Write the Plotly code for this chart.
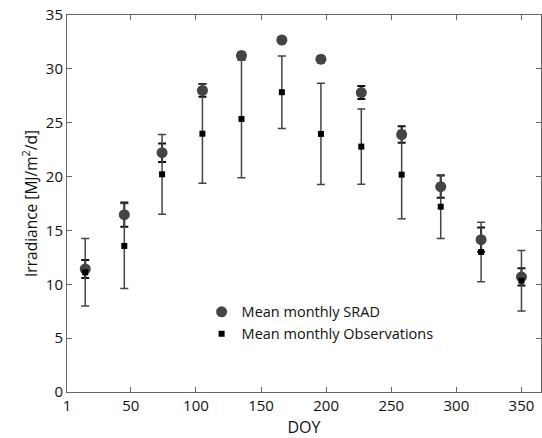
import plotly.graph_objects as go

doy = [15, 45, 74, 105, 135, 166, 196, 227, 258, 288, 319, 350]
srad = [11.42, 16.46, 22.22, 28.0, 31.23, 32.68, 30.9, 27.8, 23.9, 19.06, 14.14, 10.68]
srad_err = [0.83, 1.13, 0.86, 0.6, 0.3, 0.2, 0.3, 0.6, 0.77, 1.03, 1.13, 0.8]
obs = [11.11, 13.56, 20.21, 23.98, 25.35, 27.83, 23.96, 22.78, 20.18, 17.2, 13.0, 10.33]
obs_err = [3.13, 3.95, 3.7, 4.6, 5.45, 3.36, 4.7, 3.5, 4.1, 2.95, 2.77, 2.8]
xticks = [1, 50, 100, 150, 200, 250, 300, 350]
yticks = [0, 5, 10, 15, 20, 25, 30, 35]

font_family = "Open Sans, Lato, sans-serif"

fig = go.Figure()
fig.add_trace(go.Scatter(
    x=doy, y=srad, mode="markers", name="Mean monthly SRAD",
    marker=dict(symbol="circle", size=11, color="#444444"),
    error_y=dict(type="data", array=srad_err, color="#111111", thickness=2, width=4),
))
fig.add_trace(go.Scatter(
    x=doy, y=obs, mode="markers", name="Mean monthly Observations",
    marker=dict(symbol="square", size=6, color="#000000"),
    error_y=dict(type="data", array=obs_err, color="#444444", thickness=1.5, width=4),
))

axis_common = dict(
    showline=True, linecolor="#666666", linewidth=1, mirror="ticks",
    ticks="inside", ticklen=5, tickcolor="#666666", showgrid=False, zeroline=False,
    tickfont=dict(size=15, color="#111111", family=font_family),
)
fig.update_xaxes(range=[1, 365], tickvals=xticks, ticktext=[str(v) for v in xticks],
                 title=dict(text="DOY", font=dict(size=16, color="#111111", family=font_family), standoff=10),
                 **axis_common)
fig.update_yaxes(range=[0, 35], tickvals=yticks,
                 title=dict(text="Irradiance [MJ/m<sup>2</sup>/d]", font=dict(size=15.5, color="#111111", family=font_family), standoff=4),
                 **axis_common)

fig.update_layout(
    width=542, height=438,
    margin=dict(l=67, r=1, t=15, b=46),
    paper_bgcolor="white", plot_bgcolor="white",
    font=dict(family=font_family, color="#111111"),
    legend=dict(x=0.284, y=0.255, xanchor="left", yanchor="top",
                bgcolor="rgba(0,0,0,0)", font=dict(size=14.5, family=font_family),
                itemsizing="trace", tracegroupgap=0),
)

fig.write_html("out.html")
